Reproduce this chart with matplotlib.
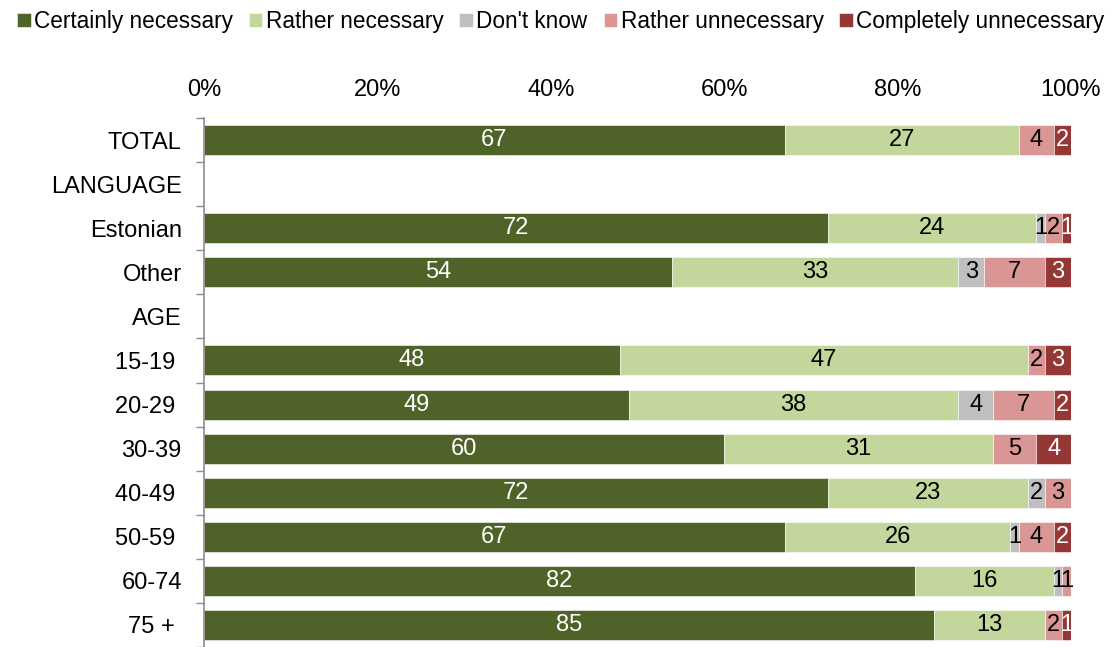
import numpy as np
import matplotlib.pyplot as plt

plt.rcParams['font.family'] = ['Liberation Sans', 'DejaVu Sans']

groups = ['TOTAL', 'LANGUAGE', 'Estonian', 'Other', 'AGE', '15-19 ', '20-29 ',
          '30-39', '40-49 ', '50-59 ', '60-74', '75 + ']
certainly = [67, 0, 72, 54, 0, 48, 49, 60, 72, 67, 82, 85]
rather = [27, 0, 24, 33, 0, 47, 38, 31, 23, 26, 16, 13]
dont_know = [0, 0, 1, 3, 0, 0, 4, 0, 2, 1, 1, 0]
rather_un = [4, 0, 2, 7, 0, 2, 7, 5, 3, 4, 1, 2]
completely = [2, 0, 1, 3, 0, 3, 2, 4, 0, 2, 0, 1]

series = [
    ('Certainly necessary', certainly, '#4F6228', 'white'),
    ('Rather necessary', rather, '#C3D69B', 'black'),
    ("Don't know", dont_know, '#BFBFBF', 'black'),
    ('Rather unnecessary', rather_un, '#D99694', 'black'),
    ('Completely unnecessary', completely, '#953735', 'white'),
]

fig = plt.figure(figsize=(11.15, 6.47), dpi=100)
ax = fig.add_axes([0.183, 0.0, 0.7775, 0.8176])

# rows are drawn as share of their rounded total (75+ sums to 101)
totals = np.sum([s[1] for s in series], axis=0).astype(float)
totals[totals == 0] = 1

y = np.arange(len(groups))
left = np.zeros(len(groups))
for name, vals, color, tcolor in series:
    vals = np.array(vals, dtype=float)
    widths = vals / totals * 100
    ax.barh(y, widths, left=left, height=0.68, color=color, label=name,
            edgecolor='white', linewidth=0.4)
    for yi, (l, w, v) in enumerate(zip(left, widths, vals)):
        if v > 0:
            ax.text(l + w / 2, yi, f'{int(v)}', ha='center', va='center',
                    color=tcolor, fontsize=17)
    left += widths

ax.set_xlim(0, 100)
ax.set_ylim(len(groups) - 0.5, -0.5)
ax.set_yticks(y)
ax.set_yticklabels(groups, fontsize=17)
ax.set_yticks(np.arange(len(groups) + 1) - 0.5, minor=True)
ax.tick_params(axis='y', which='major', length=0, pad=16)
ax.tick_params(axis='y', which='minor', length=6, color='#8c8c8c', width=1)

ax.xaxis.tick_top()
ax.set_xticks(np.arange(0, 101, 20))
ax.set_xticklabels([f'{t}%' for t in range(0, 101, 20)], fontsize=17)
ax.tick_params(axis='x', length=0, pad=12)

for s in ['top', 'right', 'bottom']:
    ax.spines[s].set_visible(False)
ax.spines['left'].set_color('#8c8c8c')
ax.spines['left'].set_linewidth(1.2)

fig.legend(loc='upper center', bbox_to_anchor=(0.503, 1.0), ncol=5, frameon=False,
           fontsize=16.3, handlelength=0.6, handleheight=0.6, handletextpad=0.15,
           columnspacing=0.7, borderaxespad=0.05)

fig.savefig('out.png', dpi=100)
